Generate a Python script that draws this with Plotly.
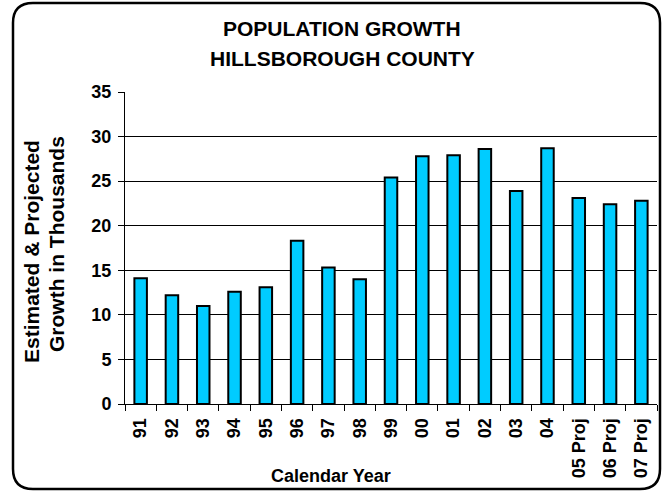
import plotly.graph_objects as go

categories = ["91", "92", "93", "94", "95", "96", "97", "98", "99", "00", "01", "02", "03", "04",
              "05 Proj", "06 Proj", "07 Proj"]
growth = [14.1, 12.2, 11.0, 12.6, 13.1, 18.3, 15.3, 14.0, 25.4, 27.8, 27.9, 28.6, 23.9, 28.7,
          23.1, 22.4, 22.8]
y_ticks = [0, 5, 10, 15, 20, 25, 30, 35]

W, H = 668, 491
L, R, T, B = 125, 11, 92, 87
PW, PH = W - L - R, H - T - B

def px(x):
    return (x - L) / PW

def py(y):
    return (H - B - y) / PH

FONT = "Liberation Sans, Arial, sans-serif"

fig = go.Figure(go.Bar(
    x=categories, y=growth, width=0.4,
    marker=dict(color="#00CCFF", line=dict(color="black", width=2)),
))

# rounded frame
l, r, t, b, rad = 13, 660, 3, 489, 20
path = (f"M {px(l+rad)},{py(t)} L {px(r-rad)},{py(t)} Q {px(r)},{py(t)} {px(r)},{py(t+rad)} "
        f"L {px(r)},{py(b-rad)} Q {px(r)},{py(b)} {px(r-rad)},{py(b)} "
        f"L {px(l+rad)},{py(b)} Q {px(l)},{py(b)} {px(l)},{py(b-rad)} "
        f"L {px(l)},{py(t+rad)} Q {px(l)},{py(t)} {px(l+rad)},{py(t)} Z")
fig.add_shape(type="path", path=path, xref="paper", yref="paper",
              line=dict(color="black", width=2.5), layer="below")

def ann(text, x, y, size, angle=0):
    fig.add_annotation(text=text, x=px(x), y=py(y), xref="paper", yref="paper",
                       showarrow=False, textangle=angle,
                       font=dict(family=FONT, size=size, color="black", weight="bold"),
                       xanchor="center", yanchor="middle")

ann("POPULATION GROWTH", 342, 28.5, 21)
ann("HILLSBOROUGH COUNTY", 342, 58.5, 21)
ann("Estimated & Projected", 31, 252, 21, -90)
ann("Growth in Thousands", 56, 244, 21, -90)
ann("Calendar Year", 331, 476, 18)

fig.update_layout(
    width=W, height=H,
    margin=dict(l=L, r=R, t=T, b=B, pad=0),
    paper_bgcolor="white", plot_bgcolor="white",
    showlegend=False, bargap=0.6,
    xaxis=dict(
        type="category", showgrid=False, showline=True, linecolor="black", linewidth=1,
        ticks="outside", ticklen=6, tickcolor="black", tickson="boundaries",
        tickangle=-90, ticklabelstandoff=6,
        tickfont=dict(family=FONT, size=18, color="black", weight="bold"),
        range=[-0.5, len(categories) - 0.5],
    ),
    yaxis=dict(
        range=[0, 35], tickvals=y_ticks, showgrid=True, gridcolor="black", gridwidth=1,
        showline=True, linecolor="black", linewidth=1, ticks="outside", ticklen=6,
        tickcolor="black", zeroline=False, ticklabelstandoff=3,
        tickfont=dict(family=FONT, size=18, color="black", weight="bold"),
    ),
)

fig.write_html("out.html")
